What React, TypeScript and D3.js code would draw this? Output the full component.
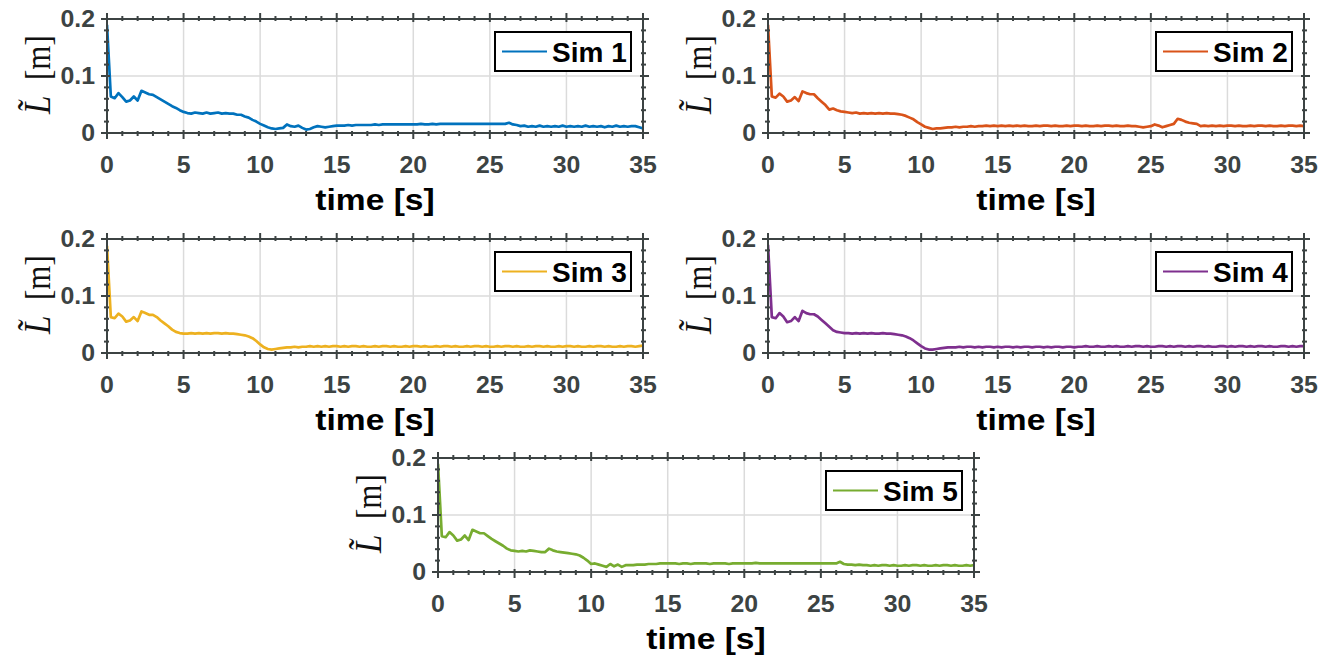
import React from "react";
import * as d3 from "d3";

// Samples are logged every 0.25 s, starting at t = 0.
const SAMPLE_STEP = 0.25;

const SIM1 = [
  0.19,
  0.064, 0.061, 0.07, 0.063,
  0.055, 0.057, 0.064, 0.057,
  0.074, 0.071, 0.068, 0.067,
  0.063, 0.059, 0.055, 0.051,
  0.047, 0.044, 0.04, 0.037,
  0.035, 0.034, 0.036, 0.035,
  0.034, 0.036, 0.034, 0.035,
  0.036, 0.034, 0.035, 0.034,
  0.034, 0.032, 0.032, 0.029,
  0.027, 0.023, 0.02, 0.016,
  0.013, 0.01, 0.008, 0.007,
  0.008, 0.009, 0.015, 0.012,
  0.011, 0.013, 0.009, 0.006,
  0.007, 0.01, 0.012, 0.011,
  0.01, 0.011, 0.012, 0.013,
  0.013, 0.013, 0.014, 0.013,
  0.014, 0.014, 0.014, 0.014,
  0.014, 0.015, 0.014, 0.015,
  0.015, 0.015, 0.015, 0.015,
  0.015, 0.015, 0.015, 0.015,
  0.015, 0.016, 0.015, 0.015,
  0.016, 0.015, 0.016, 0.016,
  0.016, 0.016, 0.016, 0.016,
  0.016, 0.016, 0.016, 0.016,
  0.016, 0.016, 0.016, 0.016,
  0.016, 0.016, 0.016, 0.016,
  0.018, 0.015, 0.014, 0.012,
  0.013, 0.011, 0.012, 0.011,
  0.013, 0.011, 0.012, 0.011,
  0.012, 0.011, 0.013, 0.011,
  0.012, 0.011, 0.012, 0.011,
  0.013, 0.011, 0.012, 0.011,
  0.012, 0.01, 0.012, 0.011,
  0.013, 0.011, 0.012, 0.011,
  0.012, 0.012, 0.01, 0.008,
];

const SIM2 = [
  0.19,
  0.064, 0.062, 0.069, 0.064,
  0.055, 0.057, 0.063, 0.056,
  0.073, 0.07, 0.068, 0.068,
  0.061, 0.055, 0.049, 0.041,
  0.043, 0.04, 0.038, 0.037,
  0.036, 0.035, 0.036, 0.034,
  0.035, 0.034, 0.035, 0.034,
  0.035, 0.034, 0.035, 0.034,
  0.034, 0.033, 0.032, 0.03,
  0.027, 0.024, 0.019, 0.015,
  0.011, 0.009, 0.007, 0.008,
  0.008, 0.009, 0.01, 0.01,
  0.011, 0.01, 0.011, 0.011,
  0.012, 0.011, 0.012, 0.012,
  0.013, 0.012, 0.013, 0.012,
  0.013, 0.012, 0.013, 0.012,
  0.013, 0.012, 0.013, 0.012,
  0.012, 0.013, 0.012, 0.013,
  0.013, 0.012, 0.013, 0.012,
  0.012, 0.013, 0.012, 0.013,
  0.013, 0.012, 0.013, 0.012,
  0.012, 0.013, 0.012, 0.013,
  0.013, 0.012, 0.013, 0.012,
  0.012, 0.013, 0.012, 0.012,
  0.011, 0.01, 0.011, 0.012,
  0.015, 0.013, 0.01, 0.012,
  0.014, 0.016, 0.025, 0.023,
  0.02, 0.018, 0.017, 0.016,
  0.012, 0.013, 0.012, 0.013,
  0.012, 0.013, 0.012, 0.013,
  0.013, 0.012, 0.013, 0.012,
  0.012, 0.013, 0.012, 0.013,
  0.013, 0.012, 0.013, 0.012,
  0.012, 0.013, 0.012, 0.013,
  0.013, 0.012, 0.013, 0.012,
];

const SIM3 = [
  0.188,
  0.063, 0.061, 0.069, 0.064,
  0.055, 0.057, 0.063, 0.056,
  0.073, 0.07, 0.067, 0.067,
  0.063, 0.057, 0.052, 0.047,
  0.041, 0.037, 0.035, 0.034,
  0.034, 0.035, 0.034, 0.035,
  0.034, 0.035, 0.034, 0.035,
  0.035, 0.034, 0.035, 0.034,
  0.034, 0.033, 0.032, 0.031,
  0.029, 0.026, 0.021, 0.015,
  0.01, 0.007, 0.006, 0.007,
  0.008, 0.009, 0.01, 0.01,
  0.011, 0.01, 0.011, 0.011,
  0.012, 0.011, 0.012, 0.011,
  0.012, 0.011, 0.012, 0.012,
  0.011, 0.012, 0.011, 0.012,
  0.012, 0.011, 0.012, 0.011,
  0.011, 0.012, 0.011, 0.012,
  0.012, 0.011, 0.012, 0.011,
  0.011, 0.012, 0.011, 0.012,
  0.012, 0.011, 0.012, 0.011,
  0.011, 0.012, 0.011, 0.012,
  0.012, 0.011, 0.012, 0.011,
  0.011, 0.012, 0.011, 0.012,
  0.012, 0.011, 0.012, 0.011,
  0.011, 0.012, 0.011, 0.012,
  0.012, 0.011, 0.012, 0.011,
  0.011, 0.012, 0.011, 0.012,
  0.012, 0.011, 0.012, 0.011,
  0.011, 0.012, 0.011, 0.012,
  0.012, 0.011, 0.012, 0.011,
  0.011, 0.012, 0.011, 0.012,
  0.012, 0.011, 0.012, 0.011,
  0.011, 0.012, 0.011, 0.012,
  0.012, 0.011, 0.012, 0.013,
];

const SIM4 = [
  0.19,
  0.063, 0.061, 0.07, 0.064,
  0.054, 0.056, 0.063, 0.056,
  0.074, 0.07, 0.068, 0.068,
  0.064, 0.058, 0.052, 0.046,
  0.04, 0.037, 0.036, 0.035,
  0.035, 0.034, 0.035, 0.034,
  0.035, 0.034, 0.035, 0.034,
  0.034, 0.035, 0.034, 0.034,
  0.033, 0.032, 0.031, 0.029,
  0.026, 0.022, 0.017, 0.012,
  0.008, 0.006, 0.006, 0.007,
  0.008, 0.009, 0.01, 0.01,
  0.01, 0.011, 0.01, 0.011,
  0.011, 0.01, 0.011, 0.01,
  0.011, 0.011, 0.01, 0.011,
  0.01, 0.011, 0.011, 0.01,
  0.011, 0.01, 0.011, 0.011,
  0.01, 0.011, 0.011, 0.01,
  0.011, 0.01, 0.011, 0.011,
  0.01, 0.011, 0.011, 0.01,
  0.011, 0.011, 0.012, 0.011,
  0.011, 0.012, 0.011, 0.011,
  0.012, 0.011, 0.012, 0.011,
  0.011, 0.012, 0.011, 0.012,
  0.012, 0.011, 0.012, 0.011,
  0.011, 0.012, 0.012, 0.011,
  0.012, 0.011, 0.012, 0.012,
  0.011, 0.012, 0.011, 0.012,
  0.012, 0.011, 0.012, 0.011,
  0.011, 0.012, 0.012, 0.011,
  0.012, 0.011, 0.012, 0.012,
  0.011, 0.012, 0.011, 0.012,
  0.012, 0.011, 0.012, 0.011,
  0.011, 0.012, 0.012, 0.011,
  0.012, 0.011, 0.012, 0.012,
];

const SIM5 = [
  0.19,
  0.063, 0.061, 0.07, 0.064,
  0.055, 0.057, 0.064, 0.056,
  0.074, 0.071, 0.068, 0.068,
  0.063, 0.058, 0.054, 0.05,
  0.046, 0.041, 0.038, 0.037,
  0.036, 0.037, 0.036, 0.038,
  0.037, 0.036, 0.035, 0.035,
  0.041, 0.038, 0.036, 0.035,
  0.034, 0.033, 0.032, 0.031,
  0.029, 0.025, 0.02, 0.014,
  0.015, 0.013, 0.011, 0.009,
  0.014, 0.01, 0.013, 0.009,
  0.012, 0.012, 0.012, 0.013,
  0.013, 0.013, 0.014, 0.014,
  0.014, 0.015, 0.015, 0.015,
  0.015, 0.015, 0.014, 0.015,
  0.015, 0.014, 0.015, 0.015,
  0.015, 0.015, 0.014, 0.015,
  0.015, 0.015, 0.015, 0.014,
  0.015, 0.015, 0.015, 0.015,
  0.015, 0.015, 0.016, 0.015,
  0.015, 0.015, 0.015, 0.015,
  0.015, 0.015, 0.015, 0.015,
  0.015, 0.015, 0.015, 0.015,
  0.015, 0.015, 0.015, 0.015,
  0.015, 0.015, 0.015, 0.015,
  0.018, 0.014, 0.013, 0.013,
  0.012, 0.013, 0.012, 0.012,
  0.011, 0.012, 0.011, 0.012,
  0.012, 0.011, 0.012, 0.011,
  0.011, 0.012, 0.011, 0.012,
  0.012, 0.011, 0.012, 0.011,
  0.011, 0.012, 0.011, 0.012,
  0.012, 0.011, 0.012, 0.011,
  0.011, 0.012, 0.011, 0.012,
];

const SERIES_NAMES = ["Sim 1", "Sim 2", "Sim 3", "Sim 4", "Sim 5"];
const SERIES_VALUES = [SIM1, SIM2, SIM3, SIM4, SIM5];
const SERIES_COLORS = ["#0072BD", "#D95319", "#EDB120", "#7E2F8E", "#77AC30"];

const X_DOMAIN: [number, number] = [0, 35];
const Y_DOMAIN: [number, number] = [0, 0.2];
const X_MAJOR = [0, 5, 10, 15, 20, 25, 30, 35];
const X_MINOR_STEP = 1;
const Y_MAJOR = [0, 0.1, 0.2];
const Y_TICK_LABELS = ["0", "0.1", "0.2"];
const Y_MINOR_STEP = 0.02;

const X_LABEL = "time [s]";

// Panel placement (top-left corner of each axes box)
const PANELS = [
  { left: 107, top: 19 },
  { left: 768, top: 19 },
  { left: 107, top: 239 },
  { left: 768, top: 239 },
  { left: 438, top: 458 },
];
const PW = 536;
const PH = 114;

const AXIS_COLOR = "#3c4343";
const GRID_COLOR = "#dbdbdb";
const SANS = "'Liberation Sans', Arial, Helvetica, sans-serif";
const SERIF = "'Liberation Serif', 'Times New Roman', serif";

function Panel({ idx }: { idx: number }) {
  const { left, top } = PANELS[idx];
  const values = SERIES_VALUES[idx];
  const color = SERIES_COLORS[idx];
  const x = d3.scaleLinear().domain(X_DOMAIN).range([left, left + PW]);
  const y = d3.scaleLinear().domain(Y_DOMAIN).range([top + PH, top]);
  const bottom = top + PH;
  const right = left + PW;

  const line = d3
    .line<number>()
    .x((_, i) => x(i * SAMPLE_STEP))
    .y((d) => y(d));

  const xMinor = d3.range(X_DOMAIN[0], X_DOMAIN[1] + 0.001, X_MINOR_STEP);
  const yMinor = d3.range(Y_DOMAIN[0], Y_DOMAIN[1] + 1e-6, Y_MINOR_STEP);

  const clipId = `clip-${idx}`;
  const MAJ_OUT = 6, MAJ_IN = 3, MIN_OUT = 3, MIN_IN = 2;

  const legW = 136, legH = 39;
  const legX = right - 12 - legW;
  const legY = top + 13;

  return (
    <g>
      <defs>
        <clipPath id={clipId}>
          <rect x={left} y={top - 2} width={PW} height={PH + 4} />
        </clipPath>
      </defs>
      {/* grid */}
      {X_MAJOR.filter((v) => v > X_DOMAIN[0] && v < X_DOMAIN[1]).map((v) => (
        <line key={`gx${v}`} x1={x(v)} x2={x(v)} y1={top} y2={bottom} stroke={GRID_COLOR} strokeWidth={1.5} />
      ))}
      {Y_MAJOR.filter((v) => v > Y_DOMAIN[0] && v < Y_DOMAIN[1]).map((v) => (
        <line key={`gy${v}`} x1={left} x2={right} y1={y(v)} y2={y(v)} stroke={GRID_COLOR} strokeWidth={1.5} />
      ))}
      {/* data */}
      <path
        d={line(values) ?? ""}
        fill="none"
        stroke={color}
        strokeWidth={2.7}
        strokeLinejoin="round"
        clipPath={`url(#${clipId})`}
      />
      {/* axes box */}
      <rect x={left} y={top} width={PW} height={PH} fill="none" stroke={AXIS_COLOR} strokeWidth={2} />
      {/* x ticks, bottom and top */}
      {xMinor.map((v) => {
        const major = X_MAJOR.some((m) => Math.abs(m - v) < 1e-6);
        const o = major ? MAJ_OUT : MIN_OUT;
        const n = major ? MAJ_IN : MIN_IN;
        return (
          <g key={`xt${v}`} stroke={AXIS_COLOR} strokeWidth={2}>
            <line x1={x(v)} x2={x(v)} y1={bottom - n} y2={bottom + o} />
            <line x1={x(v)} x2={x(v)} y1={top + n} y2={top - o} />
          </g>
        );
      })}
      {/* y ticks, left and right */}
      {yMinor.map((v) => {
        const major = Y_MAJOR.some((m) => Math.abs(m - v) < 1e-6);
        const o = major ? MAJ_OUT : MIN_OUT;
        const n = major ? MAJ_IN : MIN_IN;
        return (
          <g key={`yt${v.toFixed(2)}`} stroke={AXIS_COLOR} strokeWidth={2}>
            <line x1={left - o} x2={left + n} y1={y(v)} y2={y(v)} />
            <line x1={right + o} x2={right - n} y1={y(v)} y2={y(v)} />
          </g>
        );
      })}
      {/* tick labels */}
      {X_MAJOR.map((v) => (
        <text
          key={`xl${v}`}
          transform={`translate(${x(v)},${bottom + 40}) scale(1.08,1)`}
          textAnchor="middle"
          fontFamily={SANS}
          fontWeight="bold"
          fontSize={23}
          fill={AXIS_COLOR}
        >
          {String(v)}
        </text>
      ))}
      {Y_MAJOR.map((v, i) => (
        <text
          key={`yl${v}`}
          transform={`translate(${left - 12},${y(v) + 8}) scale(1.08,1)`}
          textAnchor="end"
          fontFamily={SANS}
          fontWeight="bold"
          fontSize={23}
          fill={AXIS_COLOR}
        >
          {Y_TICK_LABELS[i]}
        </text>
      ))}
      {/* x label */}
      <text
        transform={`translate(${(left + right) / 2},${bottom + 77}) scale(1.12,1)`}
        textAnchor="middle"
        fontFamily={SANS}
        fontWeight="bold"
        fontSize={30}
        fill="#000"
      >
        {X_LABEL}
      </text>
      {/* y label: L-tilde [m] */}
      <g transform={`translate(${left - 57},${top + PH / 2}) rotate(-90) scale(1,1.15)`} fill="#111">
        <text x={-38} y={0} fontFamily={SERIF} fontStyle="italic" fontSize={33}>
          {"L\u0303"}
        </text>
        <text x={-4} y={0} fontFamily={SERIF} fontSize={31}>
          [m]
        </text>
      </g>
      {/* legend */}
      <g>
        <rect x={legX} y={legY} width={legW} height={legH} fill="#fff" stroke="#000" strokeWidth={2} />
        <line x1={legX + 7} x2={legX + 52} y1={legY + legH / 2} y2={legY + legH / 2} stroke={color} strokeWidth={1.8} />
        <text
          x={legX + 57}
          y={legY + legH / 2 + 10}
          fontFamily={SANS}
          fontWeight="bold"
          fontSize={28}
          fill="#000"
        >
          {SERIES_NAMES[idx]}
        </text>
      </g>
    </g>
  );
}

export default function App() {
  return (
    <svg
      width={1339}
      height={661}
      viewBox="0 0 1339 661"
      style={{ position: "absolute", left: 0, top: 0, background: "#fff" }}
    >
      <rect x={0} y={0} width={1339} height={661} fill="#fff" />
      {SERIES_NAMES.map((_, i) => (
        <Panel key={i} idx={i} />
      ))}
    </svg>
  );
}
